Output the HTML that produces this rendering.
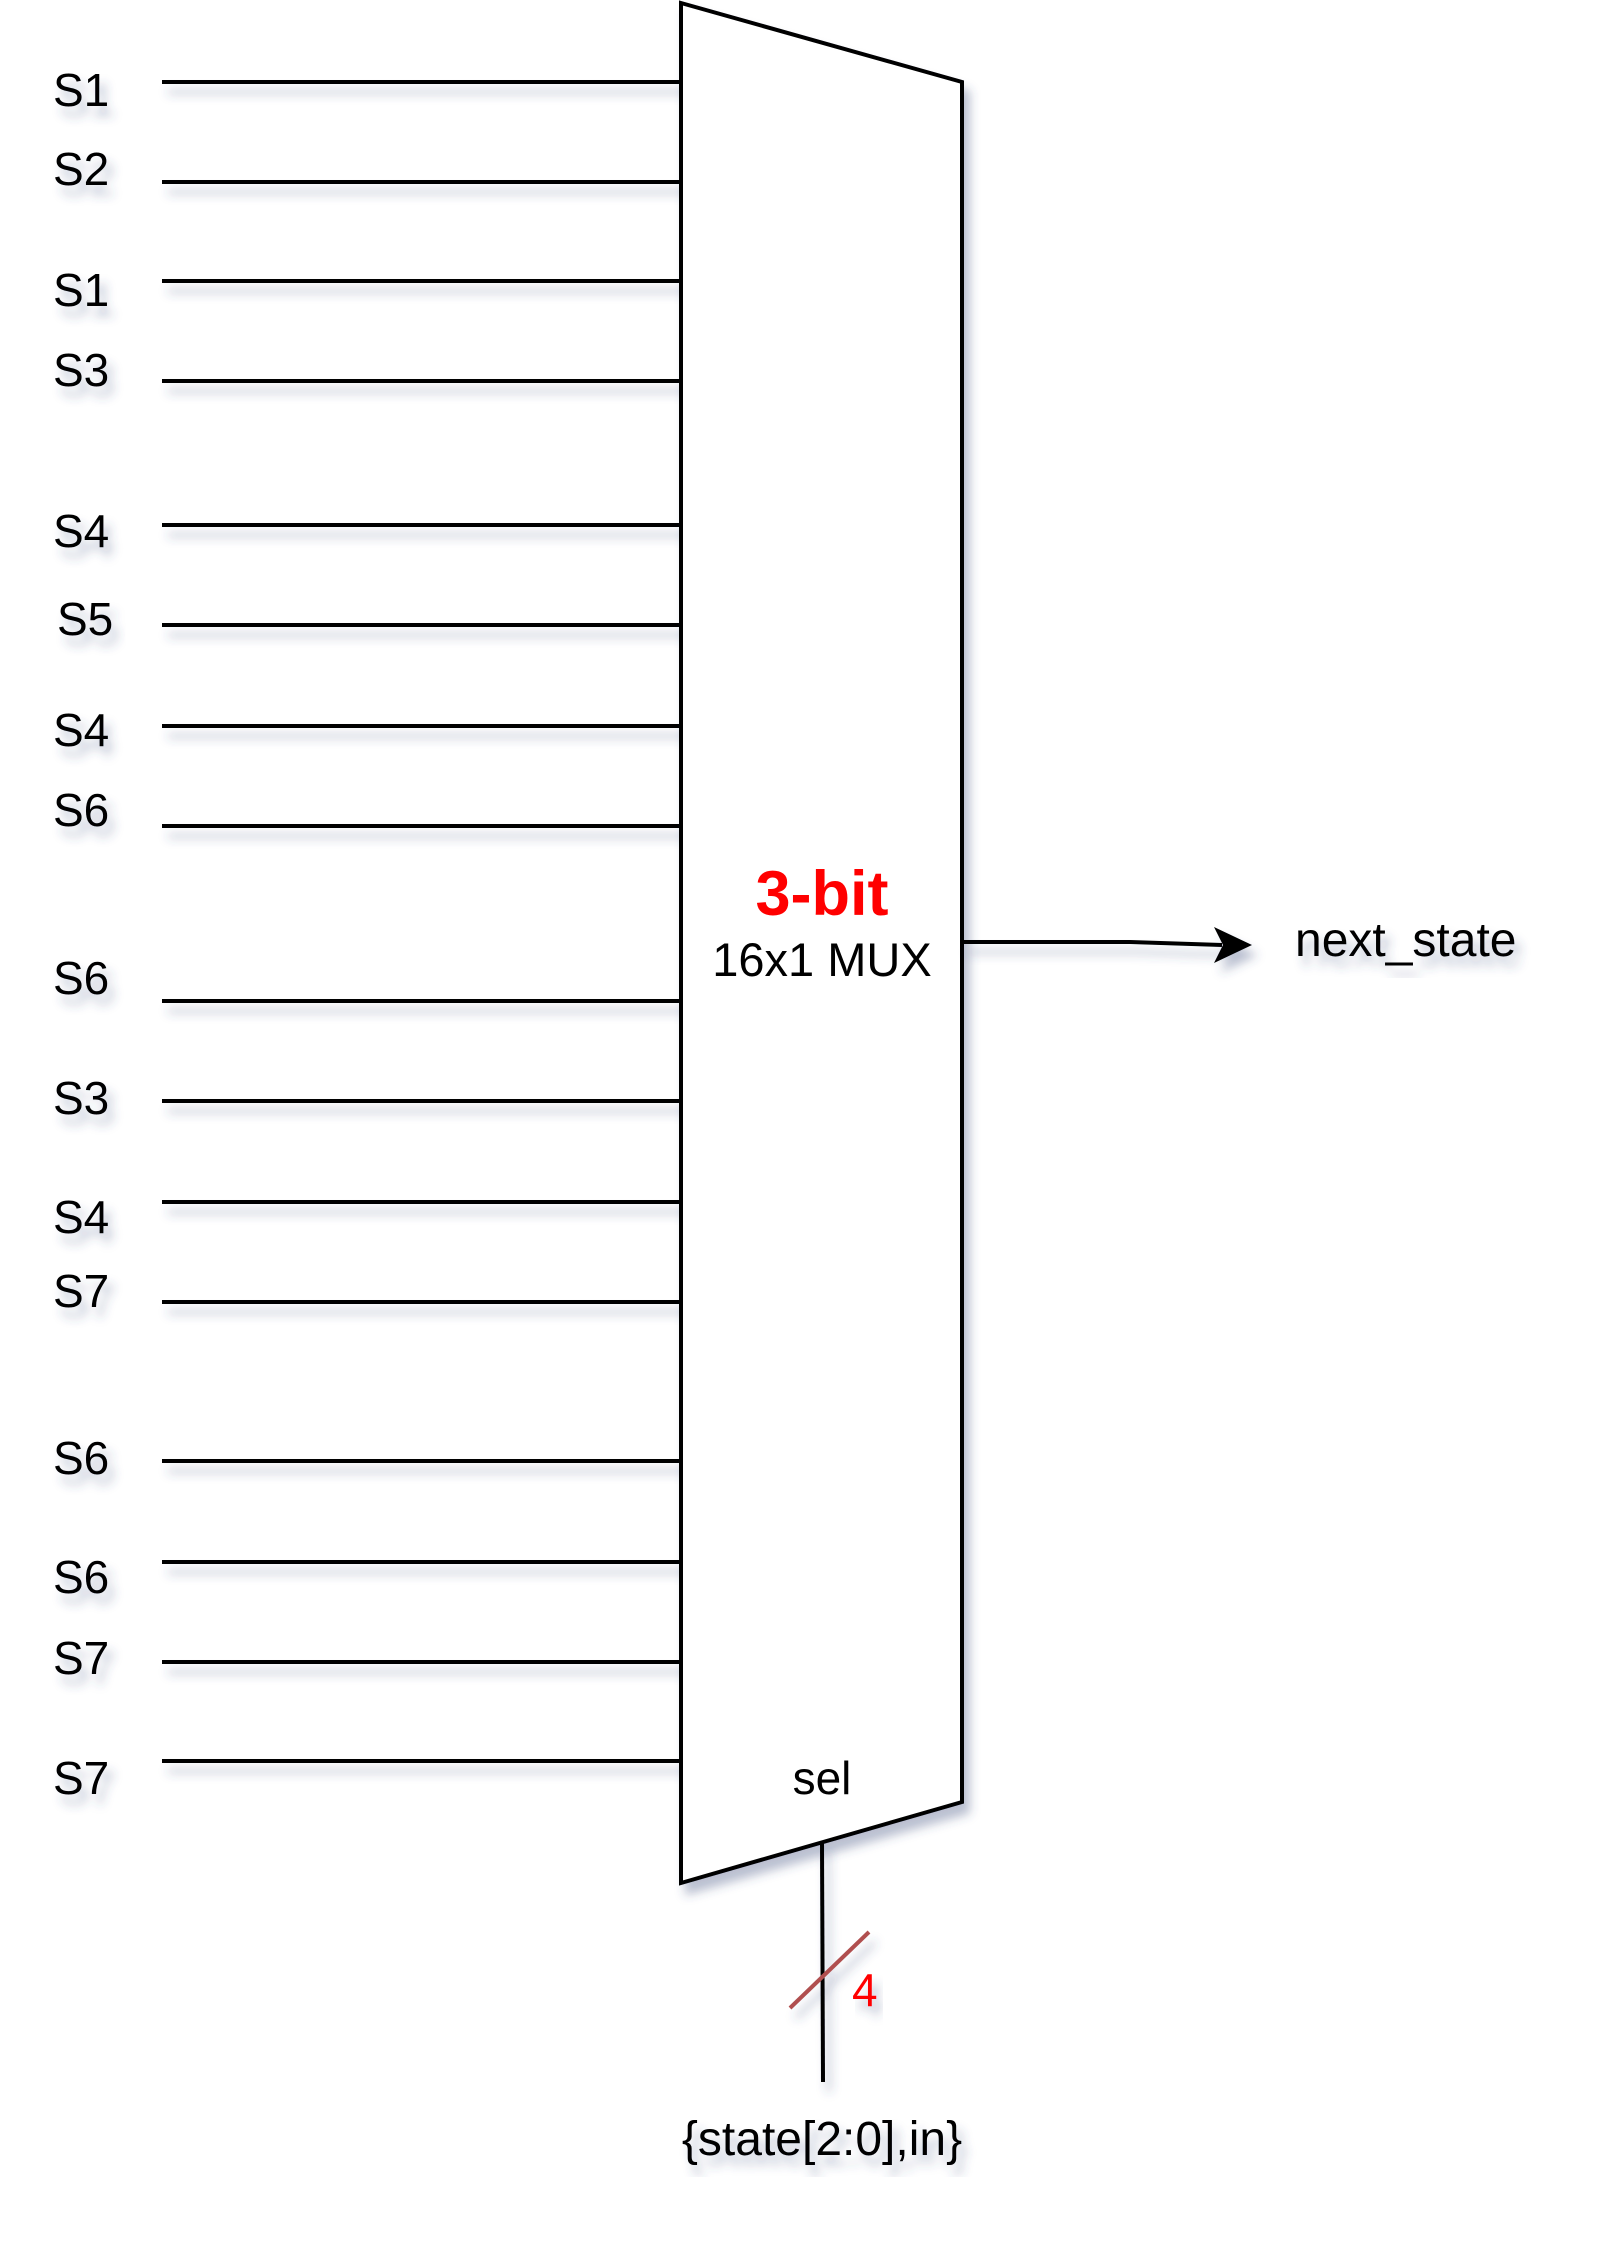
<!DOCTYPE html>
<html><head><meta charset="utf-8"><style>
html,body{margin:0;padding:0;background:#fff;}
svg{display:block;}
text{font-family:"Liberation Sans",sans-serif;}
</style></head><body>
<svg width="1604" height="2248" viewBox="0 0 1604 2248">
<defs>
<filter id="sh" x="-10%" y="-10%" width="130%" height="130%">
<feGaussianBlur in="SourceAlpha" stdDeviation="5"/>
<feOffset dx="6" dy="10" result="b"/>
<feFlood flood-color="#3a4a7a" flood-opacity="0.35"/>
<feComposite in2="b" operator="in"/>
<feMerge><feMergeNode/><feMergeNode in="SourceGraphic"/></feMerge>
</filter>
</defs>
<g id="inputs" filter="url(#sh)"></g>
<polygon points="681,3 962,82 962,1802 681,1883" fill="#fff" stroke="#000" stroke-width="4" filter="url(#sh)"/>
<text x="822" y="915" font-size="63" font-weight="bold" fill="#ff0000" text-anchor="middle">3-bit</text>
<text x="822" y="976" font-size="47" text-anchor="middle">16x1 MUX</text>
<text x="822" y="1794" font-size="46" text-anchor="middle">sel</text>
<g filter="url(#sh)">
<path d="M962,942 L1130,942 L1222,945" stroke="#000" stroke-width="4" fill="none"/>
<polygon points="1252,945 1214,927 1223,945 1214,963" fill="#000"/>
<line x1="822" y1="1842" x2="823" y2="2082" stroke="#000" stroke-width="4"/>
<line x1="790" y1="2008" x2="869" y2="1932" stroke="#b05050" stroke-width="4"/>
</g>
<text x="1295" y="956" font-size="48" filter="url(#sh)">next_state</text>
<text x="852" y="2006" font-size="46" fill="#ff0000" filter="url(#sh)">4</text>
<text x="822" y="2155" font-size="48" text-anchor="middle" filter="url(#sh)">{state[2:0],in}</text>
<g id="labels" filter="url(#sh)"></g>
<script>
const inputLabels=["S1","S2","S1","S3","S4","S5","S4","S6","S6","S3","S4","S7","S6","S6","S7","S7"];
const wireY=[82,182,281,381,525,625,726,826,1001,1101,1202,1302,1461,1562,1662,1761];
const labelY=[106,185,306,386,547,635,746,826,994,1114,1233,1307,1474,1593,1674,1794];
const NS="http://www.w3.org/2000/svg";
const gi=document.getElementById('inputs'),gl=document.getElementById('labels');
inputLabels.forEach((s,i)=>{
 const l=document.createElementNS(NS,'line');
 l.setAttribute('x1',162);l.setAttribute('x2',681);
 l.setAttribute('y1',wireY[i]);l.setAttribute('y2',wireY[i]);
 l.setAttribute('stroke','#000');l.setAttribute('stroke-width',4);
 
 
 gi.appendChild(l);
 const t=document.createElementNS(NS,'text');
 t.setAttribute('x',i===5?57:53);t.setAttribute('y',labelY[i]);
 t.setAttribute('font-size',46);t.textContent=s;
 
 
 gl.appendChild(t);
});
</script>
</svg>
</body></html>
